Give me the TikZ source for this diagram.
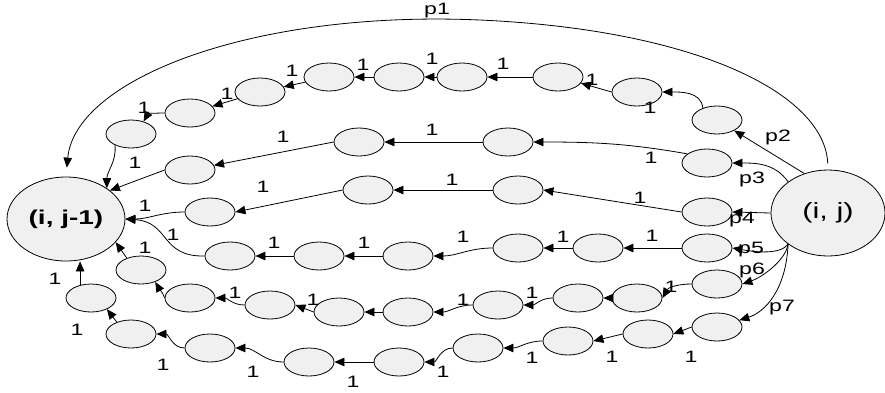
\documentclass[tikz,border=0pt]{standalone}
\usepackage{fontspec}
\newfontfamily\labfont[FakeStretch=1.4]{Liberation Sans}
\usetikzlibrary{shapes.geometric,arrows.meta}
\begin{document}
\begin{tikzpicture}[x=1pt,y=-1pt,
  sm/.style={ellipse,draw,line width=0.8pt,fill=gray!12,minimum width=50pt,minimum height=28pt,inner sep=0pt},
  bigell/.style={ellipse,draw,line width=0.8pt,fill=gray!12,inner sep=0pt,font=\labfont\fontsize{22}{22}\selectfont},
  e/.style={draw,line width=0.8pt,-{Triangle[length=10pt,width=8.5pt]}},
  lab/.style={inner sep=0pt,font=\labfont\fontsize{16.5}{16.5}\selectfont}]
\useasboundingbox (0,0) rectangle (885,392);
% big nodes
\node[bigell,minimum width=118pt,minimum height=84pt] (ij1) at (66,219) {\fontsize{20}{20}\selectfont\bfseries (i, j-1)};
\node[bigell,minimum width=114pt,minimum height=86pt] (ij) at (828,213) {(i, j)};
% row A
\node[sm] (A1) at (717,120) {};
\node[sm] (A2) at (637,92) {};
\node[sm] (A3) at (558,77) {};
\node[sm] (A4) at (462,77) {};
\node[sm] (A5) at (399,77) {};
\node[sm] (A6) at (329,77) {};
\node[sm] (A7) at (260,92) {};
\node[sm] (A8) at (190,113) {};
\node[sm] (A9) at (131,134) {};
% row B
\node[sm] (B1) at (707,163) {};
\node[sm] (B2) at (508,142) {};
\node[sm] (B3) at (359,142) {};
\node[sm] (B4) at (190,170) {};
% row C
\node[sm] (C1) at (707,212) {};
\node[sm] (C2) at (518,190) {};
\node[sm] (C3) at (368,190) {};
\node[sm] (C4) at (210,212) {};
% row D
\node[sm] (D1) at (707,248) {};
\node[sm] (D2) at (598,248) {};
\node[sm] (D3) at (518,248) {};
\node[sm] (D4) at (408,256) {};
\node[sm] (D5) at (319,256) {};
\node[sm] (D6) at (230,256) {};
% row E
\node[sm] (E1) at (717,284) {};
\node[sm] (E2) at (637,298) {};
\node[sm] (E3) at (578,298) {};
\node[sm] (E4) at (498,305) {};
\node[sm] (E5) at (408,312) {};
\node[sm] (E6) at (339,312) {};
\node[sm] (E7) at (270,305) {};
\node[sm] (E8) at (190,298) {};
\node[sm] (E9) at (141,270) {};
% row F
\node[sm] (F1) at (717,327) {};
\node[sm] (F2) at (648,334) {};
\node[sm] (F3) at (568,341) {};
\node[sm] (F4) at (478,348) {};
\node[sm] (F5) at (399,362) {};
\node[sm] (F6) at (309,362) {};
\node[sm] (F7) at (210,348) {};
\node[sm] (F8) at (131,334) {};
\node[sm] (F9) at (91,298) {};
% p edges
\coordinate (ptop) at (480,20);
\draw[e,shorten >=9pt,shorten <=6pt] (ij.north) .. controls (825,95) and (700,30) .. (ptop) .. controls (250,10) and (75,80) .. (ij1.north);
\draw[e] (ij.121) -- (A1);
\draw[e] (ij.142) to[out=125,in=0] (B1.east);
\draw[e] (ij.west) -- (C1.east);
\draw[e] (ij.218) .. controls (780,255) and (755,252) .. (D1.east);
\draw[e] (ij.218) .. controls (785,262) and (760,278) .. (E1.east);
\draw[e] (ij.218) .. controls (786,290) and (765,312) .. (F1.17);
% row A edges
\draw[e] (A1.140) to[out=95,in=0] (A2.east);
\draw[e] (A2.west) -- (A3.-15);
\draw[e] (A3) -- (A4);
\draw[e] (A4) -- (A5);
\draw[e] (A5) -- (A6);
\draw[e] (A6) -- (A7);
\draw[e] (A7) -- (A8);
\draw[e] (A8.west) to[out=180,in=60] (A9.45);
\draw[e] (A9.215) to[out=-85,in=90] (ij1.37);
% row B edges
\draw[e] (B1.155) to[out=170,in=0] (B2.east);
\draw[e] (B2) -- (B3);
\draw[e] (B3.west) -- (B4);
\draw[e] (B4.west) -- (ij1.33);
% row C edges
\draw[e] (C1.west) -- (C2.east);
\draw[e] (C2) -- (C3);
\draw[e] (C3.west) -- (C4.east);
\draw[e] (C4.west) to[out=180,in=0] (ij1.east);
% row D edges
\draw[e] (D1) -- (D2);
\draw[e] (D2) -- (D3);
\draw[e] (D3.west) to[out=180,in=0] (D4.east);
\draw[e] (D4) -- (D5);
\draw[e] (D5) -- (D6);
\draw[e] (D6.west) .. controls (160,257) and (170,222) .. (ij1.east);
% row E edges
\draw[e] (E1.west) to[out=180,in=60] (E2.east);
\draw[e] (E2) -- (E3);
\draw[e] (E3.west) to[out=180,in=0] (E4.east);
\draw[e] (E4.west) to[out=180,in=0] (E5.east);
\draw[e] (E5) -- (E6);
\draw[e] (E6.west) -- (E7.east);
\draw[e] (E7.west) to[out=180,in=0] (E8.east);
\draw[e] (E8.west) to[out=110,in=-60] (E9.-40);
\draw[e] (E9.140) -- (ij1.-25);
% row F edges
\draw[e] (F1.west) -- (F2.east);
\draw[e] (F2.west) -- (F3.east);
\draw[e] (F3.west) to[out=180,in=0] (F4.east);
\draw[e] (F4.west) to[out=180,in=0] (F5.east);
\draw[e] (F5) -- (F6);
\draw[e] (F6.west) to[out=180,in=0] (F7.east);
\draw[e] (F7.west) to[out=180,in=0] (F8.east);
\draw[e] (F8.140) -- (F9.-35);
\draw[e] (F9.130) -- (F9.130 |- ij1.south);
% p labels
\node[lab] (lp1) at (437,11) {p1};
\node[lab] (lp2) at (778,137) {p2};
\node[lab] (lp3) at (752,179) {p3};
\node[lab] (lp4) at (742,220) {p4};
\node[lab] (lp5) at (751,250) {p5};
\node[lab] (lp6) at (752,270) {p6};
\node[lab] (lp7) at (782,308) {p7};
% A labels
\node[lab] (la1) at (650,108) {1};
\node[lab] (la2) at (592,80) {1};
\node[lab] (la3) at (503,64) {1};
\node[lab] (la4) at (432,59) {1};
\node[lab] (la5) at (363,65) {1};
\node[lab] (la6) at (292,71) {1};
\node[lab] (la7) at (227,94) {1};
\node[lab] (la8) at (144,108) {1};
% B labels
\node[lab] (lb1) at (651,158) {1};
\node[lab] (lb2) at (432,130) {1};
\node[lab] (lb3) at (283,137) {1};
\node[lab] (lb4) at (135,163) {1};
% C labels
\node[lab] (lc1) at (640,198) {1};
\node[lab] (lc2) at (452,180) {1};
\node[lab] (lc3) at (263,187) {1};
\node[lab] (lc4) at (145,206) {1};
% D labels
\node[lab] (ld1) at (652,236) {1};
\node[lab] (ld2) at (563,237) {1};
\node[lab] (ld3) at (463,237) {1};
\node[lab] (ld4) at (364,243) {1};
\node[lab] (ld5) at (274,243) {1};
\node[lab] (ld6) at (173,235) {1};
% E labels
\node[lab] (le1) at (671,287) {1};
\node[lab] (le3) at (532,293) {1};
\node[lab] (le4) at (463,300) {1};
\node[lab] (le6) at (313,300) {1};
\node[lab] (le7) at (235,293) {1};
\node[lab] (le9) at (145,248) {1};
% F labels
\node[lab] (lf1) at (691,357) {1};
\node[lab] (lf2) at (612,357) {1};
\node[lab] (lf3) at (532,358) {1};
\node[lab] (lf4) at (443,372) {1};
\node[lab] (lf5) at (353,382) {1};
\node[lab] (lf6) at (253,372) {1};
\node[lab] (lf7) at (163,365) {1};
\node[lab] (lf8) at (77,330) {1};
\node[lab] (lf9) at (55,279) {1};
\end{tikzpicture}
\end{document}
